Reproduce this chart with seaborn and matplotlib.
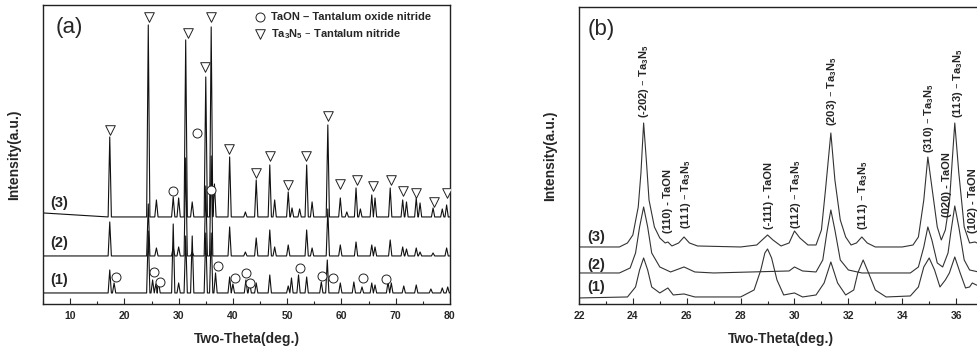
import numpy as np
import matplotlib
matplotlib.use("Agg")
import matplotlib.pyplot as plt
from matplotlib.ticker import MultipleLocator
import seaborn as sns

# ---- panel (a): peak tables ----
peaks_a3 = [17.3, 24.4, 25.9, 29.0, 30.0, 31.3, 32.5, 35.0, 36.0, 36.6, 39.4, 42.3,
            44.3, 46.8, 47.7, 50.2, 50.9, 52.3, 53.6, 54.6, 57.5, 59.8, 61.0, 62.7,
            63.5, 65.6, 66.2, 69.0, 71.3, 72.0, 73.8, 74.5, 76.9, 78.6, 79.4]
height_a3 = [167, 279, 104, 107, 106, 264, 102, 227, 277, 120, 147, 92,
             124, 139, 104, 112, 96, 95, 139, 102, 179, 106, 92, 116,
             95, 109, 106, 116, 104, 102, 106, 101, 96, 95, 99]
peaks_a2 = [17.3, 24.4, 25.9, 29.0, 30.0, 31.3, 32.5, 35.0, 36.0, 39.4, 42.3, 44.3,
            46.8, 47.7, 50.2, 53.6, 54.6, 57.5, 59.8, 62.7, 65.6, 66.2, 69.0, 71.3,
            72.0, 73.8, 74.5, 76.9, 79.4]
height_a2 = [82, 100, 56, 57, 57, 146, 52, 118, 148, 77, 52, 66,
             74, 57, 59, 74, 56, 95, 59, 62, 59, 57, 64, 57,
             55, 56, 52, 51, 56]
peaks_a1 = [17.3, 18.1, 24.4, 25.2, 25.8, 26.3, 29.0, 30.0, 31.3, 32.5, 35.0, 36.0,
            36.8, 39.4, 40.0, 42.4, 43.1, 44.3, 46.8, 50.2, 50.8, 52.1, 53.6, 56.3,
            57.4, 59.8, 62.3, 63.8, 65.6, 66.2, 68.6, 69.2, 71.5, 73.8, 76.5, 78.6, 79.6]
height_a1 = [34, 21, 73, 24, 20, 22, 80, 21, 68, 68, 71, 71,
             31, 27, 20, 24, 22, 21, 29, 18, 26, 29, 27, 22,
             44, 21, 22, 17, 21, 19, 22, 21, 18, 19, 15, 16, 17]
base_a = [87, 48, 11]
start_a = [91, 48, 11]

# phase markers in panel (a)
taon_x = [28.95, 33.4, 36.0, 18.5, 25.5, 26.5, 37.2, 40.3, 42.4, 43.2, 52.3, 56.5, 58.5, 63.9, 68.2]
taon_y = [113, 171, 114, 27, 32, 22, 38, 26, 31, 21, 36, 28, 26, 26, 25]
ta3n5_x = [17.4, 24.6, 31.65, 34.9, 36.0, 39.3, 44.3, 46.9, 50.25, 53.5, 57.6, 59.7,
           62.8, 65.9, 69.1, 71.4, 73.8, 77.0, 79.4]
ta3n5_y = [174, 287, 271, 237, 287, 155, 131, 148, 119, 148, 188, 120,
           124, 118, 124, 113, 111, 102, 111]

# ---- panel (b): profiles ----
tth_b3 = [22.0, 23.5, 23.8, 24.0, 24.2, 24.3, 24.4, 24.5, 24.6, 24.8, 25.0, 25.2, 25.3,
          25.45, 25.7, 25.9, 26.1, 26.4, 28.0, 28.6, 28.8, 29.0, 29.2, 29.5, 29.8, 30.0,
          30.2, 30.5, 30.8, 31.0, 31.15, 31.35, 31.5, 31.7, 31.9, 32.1, 32.3, 32.5, 32.7,
          33.0, 34.0, 34.4, 34.6, 34.8, 34.95, 35.1, 35.3, 35.45, 35.6, 35.75, 35.95, 36.1,
          36.3, 36.5, 36.7, 37.0]
int_b3 = [57, 57, 61, 69, 97, 131, 181, 144, 104, 77, 66, 61, 62,
          58, 61, 67, 61, 58, 57, 59, 64, 69, 64, 58, 61, 73,
          66, 59, 59, 74, 114, 171, 124, 84, 67, 59, 61, 67, 61,
          57, 57, 59, 67, 104, 147, 117, 77, 64, 74, 101, 181, 131,
          77, 61, 62, 58]
tth_b2 = [22.0, 23.5, 23.9, 24.1, 24.25, 24.4, 24.55, 24.7, 25.0, 25.4, 25.9, 26.3, 27.0,
          29.8, 30.0, 30.3, 30.8, 31.05, 31.2, 31.35, 31.5, 31.7, 32.0, 32.5, 34.3, 34.6,
          34.8, 34.95, 35.1, 35.3, 35.5, 35.7, 35.8, 35.95, 36.1, 36.3, 36.5, 37.0]
int_b2 = [31, 31, 36, 51, 77, 97, 77, 51, 37, 32, 37, 32, 31,
          33, 37, 33, 32, 44, 71, 94, 74, 44, 34, 31, 31, 37,
          57, 77, 64, 41, 37, 51, 71, 98, 77, 44, 34, 31]
tth_b1 = [22.0, 23.8, 24.1, 24.25, 24.4, 24.55, 24.7, 25.0, 25.3, 25.5, 25.9, 26.3, 28.0,
          28.5, 28.75, 28.9, 29.0, 29.15, 29.35, 29.6, 30.0, 30.3, 30.8, 31.1, 31.35, 31.6,
          31.9, 32.2, 32.35, 32.55, 32.75, 33.0, 33.4, 34.3, 34.6, 34.8, 35.0, 35.2, 35.4,
          35.6, 35.75, 35.95, 36.15, 36.35, 36.5, 36.6, 36.75, 37.0]
int_b1 = [6, 7, 17, 34, 46, 34, 17, 11, 16, 9, 10, 7, 7,
          14, 34, 51, 55, 46, 24, 9, 11, 7, 9, 21, 42, 21,
          9, 14, 31, 44, 31, 14, 7, 8, 17, 37, 46, 34, 17,
          24, 31, 47, 31, 16, 17, 21, 19, 17]

# reflection labels in panel (b)
tri = r"Ta$_3$N$_5$"
hkl_labels = ["(-202) \u2013 " + tri, "(110) - TaON", "(111) \u2013 " + tri, "(-111) - TaON",
              "(112) \u2013 " + tri, "(203) \u2013 " + tri, "(111) \u2013 " + tri,
              "(310) \u2013 " + tri, "(020) - TaON", "(113) \u2013 " + tri, "(102) - TaON"]
hkl_x = [24.4, 25.32, 25.98, 29.05, 30.05, 31.4, 32.55, 34.98, 35.65, 36.07, 36.62]
hkl_y = [186, 71, 75, 75, 75, 178, 74, 151, 87, 186, 71]

sample_names = ["(3)", "(2)", "(1)"]


def spike_line(pos, heights, base, start, x0, x1, hw=0.3):
    xs, ys = [x0], [start]
    for p, h in zip(pos, heights):
        xs += [p - hw, p, p + hw]
        ys += [base, h, base]
    xs.append(x1)
    ys.append(base)
    return xs, ys


def main():
    sns.set_style("ticks")
    plt.rcParams["font.family"] = ["Liberation Sans", "DejaVu Sans"]
    plt.rcParams["mathtext.default"] = "regular"

    fig = plt.figure(figsize=(9.78, 3.51), dpi=100)
    ax_a = fig.add_axes([0.044, 0.134, 0.416, 0.852])
    ax_b = fig.add_axes([0.592, 0.134, 0.414, 0.846])

    # panel (a)
    tables = [(peaks_a3, height_a3), (peaks_a2, height_a2), (peaks_a1, height_a1)]
    for (pos, hts), base, st in zip(tables, base_a, start_a):
        xs, ys = spike_line(pos, hts, base, st, 5, 80)
        sns.lineplot(x=xs, y=ys, ax=ax_a, sort=False, estimator=None,
                     color="#111111", lw=0.8)

    sns.scatterplot(x=taon_x, y=taon_y, ax=ax_a, marker="o", s=42, facecolor="white",
                    edgecolor="#222222", linewidth=0.7, zorder=5,
                    label="TaON \u2013 Tantalum oxide nitride")
    sns.scatterplot(x=ta3n5_x, y=ta3n5_y, ax=ax_a, marker="v", s=48, facecolor="white",
                    edgecolor="#222222", linewidth=0.7, zorder=5,
                    label=tri + " \u2013 Tantalum nitride")
    leg = ax_a.legend(loc="upper left", bbox_to_anchor=(0.52, 0.975), frameon=False,
                      borderpad=0, borderaxespad=0, handlelength=1.0, handletextpad=0.5,
                      labelspacing=0.45, prop={"weight": "bold", "size": 8})

    for name, y in zip(sample_names, [101, 61, 24]):
        ax_a.text(6.3, y, name, fontsize=10.5, fontweight="bold", va="center", ha="left")
    ax_a.text(0.03, 0.925, "(a)", transform=ax_a.transAxes, fontsize=16,
              va="center", ha="left")

    ax_a.set_xlim(5, 80)
    ax_a.set_ylim(0, 299)
    ax_a.xaxis.set_major_locator(MultipleLocator(10))
    ax_a.xaxis.set_minor_locator(MultipleLocator(5))

    # panel (b)
    for xs, ys in [(tth_b3, int_b3), (tth_b2, int_b2), (tth_b1, int_b1)]:
        sns.lineplot(x=xs, y=ys, ax=ax_b, sort=False, estimator=None,
                     color="#333333", lw=0.8)
    for lab, x, y in zip(hkl_labels, hkl_x, hkl_y):
        ax_b.text(x, y, lab, rotation=90, ha="center", va="bottom",
                  fontsize=8, fontweight="bold", clip_on=False)
    for name, y in zip(sample_names, [67, 39, 17]):
        ax_b.text(22.3, y, name, fontsize=10.5, fontweight="bold", va="center", ha="left")
    ax_b.text(0.022, 0.925, "(b)", transform=ax_b.transAxes, fontsize=16,
              va="center", ha="left")

    ax_b.set_xlim(22, 37.03)
    ax_b.set_ylim(0, 297)
    ax_b.xaxis.set_major_locator(MultipleLocator(2))
    ax_b.xaxis.set_minor_locator(MultipleLocator(1))

    for ax in (ax_a, ax_b):
        ax.set_yticks([])
        ax.tick_params(axis="x", which="major", direction="in", length=4, width=0.8,
                       labelsize=7.5, pad=5)
        ax.tick_params(axis="x", which="minor", direction="in", length=2.5, width=0.8)
        for lbl in ax.get_xticklabels():
            lbl.set_fontweight("bold")
        for sp in ax.spines.values():
            sp.set_visible(True)
            sp.set_linewidth(1.0)
            sp.set_color("#222222")
        ax.set_xlabel("Two-Theta(deg.)", fontsize=10, fontweight="bold", labelpad=8)
        ax.set_ylabel("Intensity(a.u.)", fontsize=10, fontweight="bold", labelpad=16)

    fig.savefig("out.png", dpi=100)


if __name__ == "__main__":
    main()
